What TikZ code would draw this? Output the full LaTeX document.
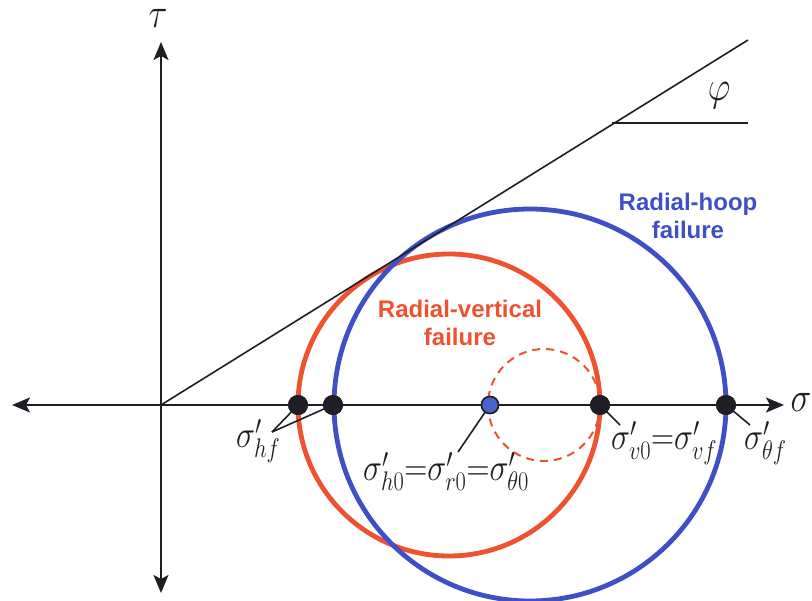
\RequirePackage{fix-cm}
\documentclass[tikz,border=0pt]{standalone}
\usepackage{fontspec}
\usepackage{graphicx}
\newfontfamily\labfont{Liberation Sans}
\usetikzlibrary{arrows.meta}
\definecolor{myred}{HTML}{EE5230}
\definecolor{myblue}{HTML}{3F4FC6}
\definecolor{dotblue}{HTML}{4A64CC}
\definecolor{ink}{HTML}{1E1E24}
\newcommand{\tallm}[1]{\scalebox{1}[1.2]{$#1$}}
\begin{document}
\begin{tikzpicture}[x=1pt,y=-1pt,
  axis/.style={draw=ink,line width=1.8pt,-{Stealth[length=18pt,width=15pt,inset=4pt]}},
  thin/.style={draw=ink,line width=1.6pt},
  bigdot/.style={circle,fill=ink,inner sep=0pt,minimum size=20pt},
  bluedot/.style={circle,fill=dotblue,draw=ink,line width=1.5pt,inner sep=0pt,minimum size=17pt},
  mlabel/.style={inner sep=0pt,font=\fontsize{32}{34}\selectfont,text=ink},
  biglabel/.style={inner sep=0pt,font=\fontsize{35}{37}\selectfont,text=ink},
  fail/.style={font=\labfont\bfseries\fontsize{24}{28}\selectfont,align=center}]
\useasboundingbox (0,0) rectangle (812,601);
% coordinates
\coordinate (O) at (161,405);
\coordinate (xl) at (12,405);
\coordinate (xr) at (784,405);
\coordinate (yt) at (161,42);
\coordinate (yb) at (161,593);
\coordinate (Lend) at (748,40);
\coordinate (Hs) at (612,123);
\coordinate (He) at (748,123);
% circles
\draw[myred,line width=4.8pt] (449,405) circle[radius=151];
\draw[myblue,line width=4.8pt] (530,405) circle[radius=196];
\draw[myred,line width=2pt,dash pattern=on 8pt off 6pt] (544,405) circle[radius=56];
% axes
\draw[axis] (O) -- (xr);
\draw[axis] (O) -- (xl);
\draw[axis] (O) -- (yt);
\draw[axis] (O) -- (yb);
% failure envelope
\draw[thin] (O) -- (Lend);
\draw[thin] (Hs) -- (He);
% axis labels
\node[biglabel,anchor=base] (tau) at (158,28) {\tallm{\tau}};
\node[biglabel,anchor=base] (sig) at (801,412) {\tallm{\sigma}};
\node[biglabel,anchor=base] (phi) at (719,101) {\tallm{\varphi}};
% points
\node[bigdot] (p1) at (298,405) {};
\node[bigdot] (p2) at (333,405) {};
\node[bluedot] (p3) at (490,405) {};
\node[bigdot] (p4) at (600,405) {};
\node[bigdot] (p5) at (726,405) {};
% labels
\node[mlabel,anchor=base west] (lhf) at (236,448) {\tallm{\sigma'_{hf}}};
\coordinate (chf) at (272,432);
\draw[thin] (chf) -- (p1.center);
\draw[thin] (chf) -- (p2.center);
\node[mlabel,anchor=base west] (l0) at (363,481) {\tallm{\sigma'_{h0}{=}\sigma'_{r0}{=}\sigma'_{\theta0}}};
\coordinate (c0) at (458,452);
\draw[thin] (c0) -- (p3.center);
\node[mlabel,anchor=base west] (lv) at (611,450) {\tallm{\sigma'_{v0}{=}\sigma'_{vf}}};
\coordinate (cv) at (620,425);
\draw[thin] (cv) -- (p4.center);
\node[mlabel,anchor=base west] (lt) at (744,450) {\tallm{\sigma'_{\theta f}}};
\coordinate (ct) at (750,425);
\draw[thin] (ct) -- (p5.center);
% redraw dots on top of leaders
\node[bigdot] at (p1) {};
\node[bigdot] at (p2) {};
\node[bluedot] at (p3) {};
\node[bigdot] at (p4) {};
\node[bigdot] at (p5) {};
% failure labels
\node[fail,text=myblue] (rh) at (688,216) {Radial-hoop\\failure};
\node[fail,text=myred] (rv) at (460,323) {Radial-vertical\\failure};
\end{tikzpicture}
\end{document}
